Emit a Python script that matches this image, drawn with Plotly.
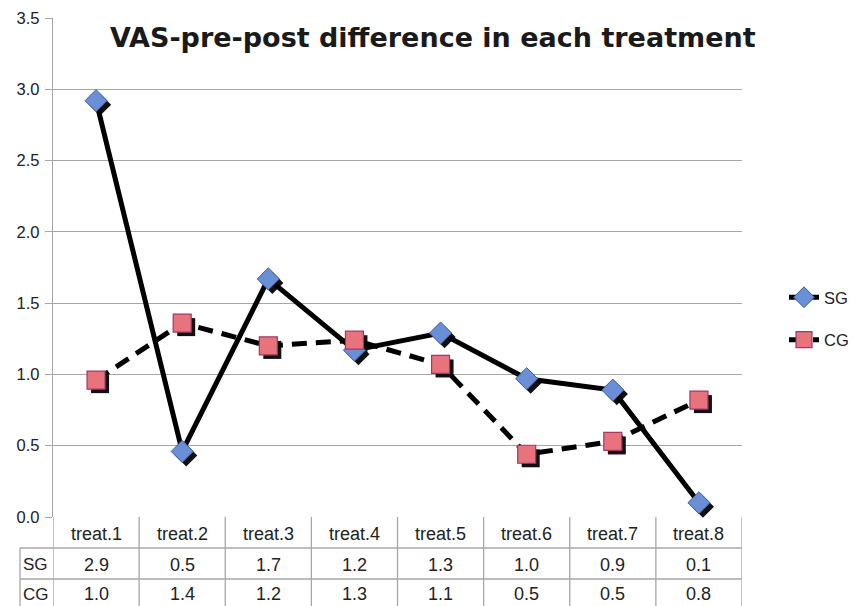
import plotly.graph_objects as go

categories = ["treat.1", "treat.2", "treat.3", "treat.4", "treat.5", "treat.6", "treat.7", "treat.8"]
sg_values = [2.92, 0.46, 1.67, 1.17, 1.29, 0.97, 0.89, 0.10]
cg_values = [0.96, 1.36, 1.20, 1.24, 1.07, 0.44, 0.53, 0.82]
sg_table = ["2.9", "0.5", "1.7", "1.2", "1.3", "1.0", "0.9", "0.1"]
cg_table = ["1.0", "1.4", "1.2", "1.3", "1.1", "0.5", "0.5", "0.8"]
y_ticks = [0.0, 0.5, 1.0, 1.5, 2.0, 2.5, 3.0, 3.5]

W, H = 859, 606
X0, X1 = 53, 742
YT, YB = 18, 517
SH = 4  # shadow offset px

def px(x):
    return x / W

def py(y):
    return 1 - y / H

xs = list(range(len(categories)))
FONT = "Liberation Sans, Arial, sans-serif"
WIDEFONT = "DejaVu Sans, sans-serif"
GRID = "#a6a6a6"
TXT = "#222222"

fig = go.Figure()

# shadow traces (markers only), on a slightly shifted subplot
fig.add_trace(go.Scatter(x=xs, y=sg_values, mode="markers", xaxis="x2", yaxis="y2",
                         marker=dict(symbol="diamond", size=17, color="#111111"),
                         showlegend=False, hoverinfo="skip", cliponaxis=False))
fig.add_trace(go.Scatter(x=xs, y=cg_values, mode="markers", xaxis="x2", yaxis="y2",
                         marker=dict(symbol="square", size=18, color="#111111"),
                         showlegend=False, hoverinfo="skip", cliponaxis=False))

fig.add_trace(go.Scatter(x=xs, y=sg_values, mode="lines+markers", name="SG",
                         xaxis="x3", yaxis="y3", legendgroup="a", cliponaxis=False,
                         line=dict(color="black", width=5),
                         marker=dict(symbol="diamond", size=17, color="#6b8fd6",
                                     line=dict(color="#3d5c9e", width=1))))
fig.add_trace(go.Scatter(x=xs, y=cg_values, mode="lines+markers", name="CG",
                         xaxis="x3", yaxis="y3", legendgroup="b", cliponaxis=False,
                         line=dict(color="black", width=5, dash="15px,9px"),
                         marker=dict(symbol="square", size=18, color="#e8737d",
                                     line=dict(color="#9c3a6a", width=1.2))))

shapes = []
tb1, tb2, tb3 = 548, 579, 620
for yy in (tb1, tb2):
    shapes.append(dict(type="line", xref="paper", yref="paper", x0=px(20), x1=px(X1),
                       y0=py(yy), y1=py(yy), line=dict(color=GRID, width=1.3)))
for k in range(len(categories) + 1):
    shapes.append(dict(type="line", xref="x", yref="paper", x0=k - 0.5, x1=k - 0.5,
                       y0=py(YB), y1=py(tb3), line=dict(color=GRID, width=1.3)))
shapes.append(dict(type="line", xref="paper", yref="paper", x0=px(20), x1=px(20),
                   y0=py(tb1), y1=py(tb3), line=dict(color=GRID, width=1.3)))

annotations = []
rows = [(categories, (YB + tb1) / 2 + 1), (sg_table, (tb1 + tb2) / 2 + 1), (cg_table, 594)]
for texts, yy in rows:
    for i, t in enumerate(texts):
        annotations.append(dict(x=i, y=py(yy), xref="x", yref="paper", text=t,
                                xanchor="center", yanchor="middle", showarrow=False,
                                font=dict(size=18, color=TXT, family=FONT)))
for lab, yy in [("SG", rows[1][1]), ("CG", rows[2][1])]:
    annotations.append(dict(x=px(21), y=py(yy), xref="paper", yref="paper", text=lab,
                            xanchor="left", yanchor="middle", showarrow=False,
                            font=dict(size=17, color=TXT, family=FONT)))

annotations.append(dict(x=px(433), y=py(37), xref="paper", yref="paper",
                        text="<b>VAS-pre-post difference in each treatment</b>",
                        xanchor="center", yanchor="middle",
                        showarrow=False, font=dict(size=27, color="#1a1a1a", family=WIDEFONT)))

axis_common = dict(range=[-0.5, len(categories) - 0.5])
fig.update_layout(
    width=W, height=H,
    margin=dict(l=0, r=0, t=0, b=0, autoexpand=False),
    paper_bgcolor="white", plot_bgcolor="rgba(0,0,0,0)",
    font=dict(family=FONT, size=17, color=TXT),
    xaxis=dict(domain=[px(X0), px(X1)], showticklabels=False, showgrid=False,
               zeroline=False, showline=False, **axis_common),
    yaxis=dict(domain=[py(YB), py(YT)], range=[0, 3.5], tickvals=y_ticks,
               ticktext=[f"{v:.1f}" for v in y_ticks],
               showgrid=True, gridcolor=GRID, gridwidth=1.3, zeroline=False,
               showline=True, linecolor=GRID, linewidth=1.3,
               ticks="outside", ticklen=7, tickcolor=GRID, tickwidth=1.3,
               tickfont=dict(size=16.5, color=TXT), ticklabelstandoff=2),
    xaxis2=dict(domain=[px(X0 + SH), px(X1 + SH)], visible=False, anchor="y2",
                **axis_common),
    yaxis2=dict(domain=[py(YB + SH), py(YT + SH)], range=[0, 3.5], visible=False,
                anchor="x2"),
    xaxis3=dict(domain=[px(X0), px(X1)], visible=False, anchor="y3", **axis_common),
    yaxis3=dict(domain=[py(YB), py(YT)], range=[0, 3.5], visible=False, anchor="x3"),
    legend=dict(x=px(784), y=py(280), xanchor="left", yanchor="top",
                font=dict(size=16.5, color=TXT), tracegroupgap=18,
                itemwidth=30, bgcolor="rgba(0,0,0,0)"),
    shapes=shapes, annotations=annotations,
)

fig.write_html("out.html", config={"displayModeBar": False},
               post_script="document.body.style.margin='0px';document.body.style.overflow='hidden';")
